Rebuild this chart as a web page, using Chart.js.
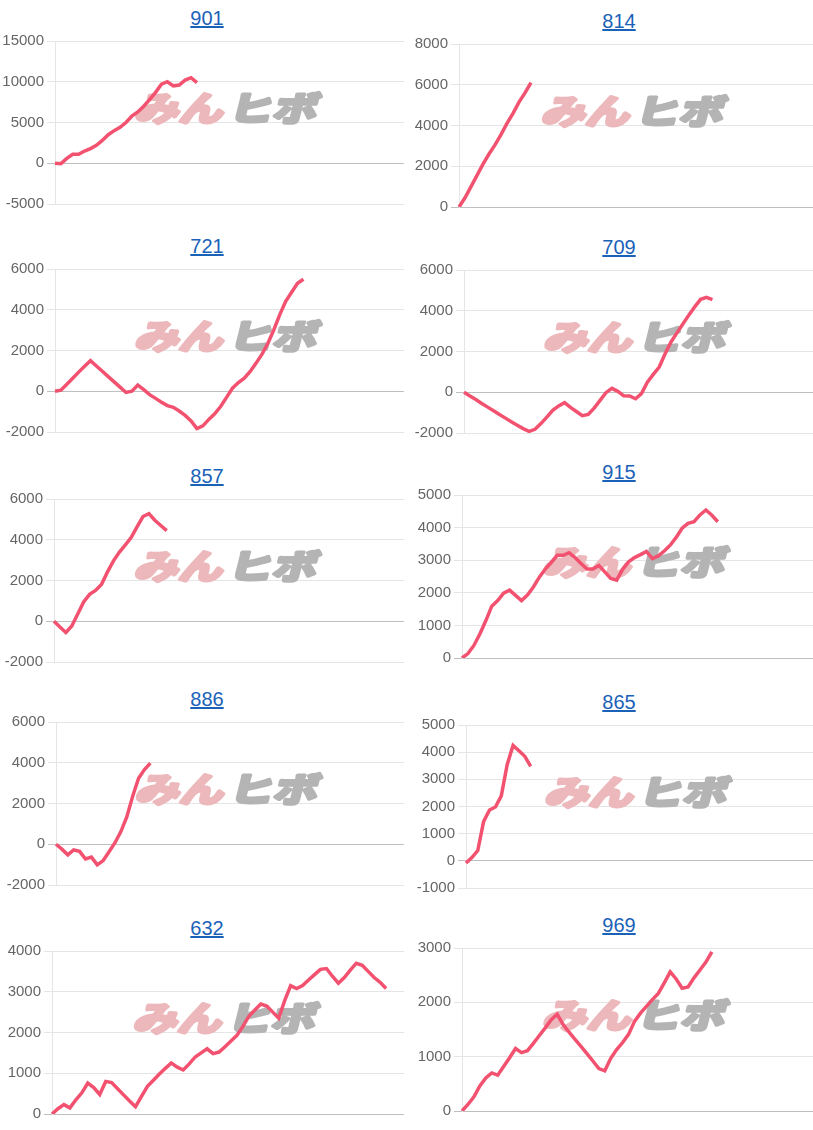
<!DOCTYPE html>
<html>
<head>
<meta charset="utf-8">
<script src="https://cdn.jsdelivr.net/npm/chart.js@4.4.0/dist/chart.umd.min.js"></script>
<style>
  body { margin: 0; background: #fff; font-family: "Liberation Sans", Arial, sans-serif; }
  #page { position: relative; width: 813px; height: 1130px; overflow: hidden; }
  .title { position: absolute; width: 200px; margin-left: -100px; height: 36px; line-height: 36px; text-align: center; font-size: 20px; }
  .title a { color: #1a62b8; text-decoration: underline; }
  .box { position: absolute; height: 187px; }
</style>
</head>
<body>
<div id="page"></div>
<script>
// x positions (days) - the axis is longer than most series
const xLabels = Array.from({ length: 60 }, (_, i) => i + 1);

const titles = ['901', '814', '721', '709', '857', '915', '886', '865', '632', '969'];

const v901 = [0, -50, 600, 1100, 1100, 1500, 1800, 2200, 2800, 3500, 4000, 4400, 5000, 5800, 6300,
  7000, 7800, 8700, 9700, 10000, 9500, 9600, 10200, 10500, 9900];
const v814 = [0, 450, 1000, 1550, 2100, 2600, 3050, 3550, 4100, 4600, 5150, 5600, 6100];
const v721 = [0, 50, 340, 640, 940, 1230, 1500, 1240, 980, 720, 460, 200, -60, 0, 300, 80, -165,
  -350, -535, -705, -790, -970, -1185, -1460, -1830, -1700, -1380, -1110, -750, -300, 150, 425,
  645, 970, 1380, 1820, 2355, 3020, 3760, 4410, 4860, 5300, 5500];
const v709 = [0, -180, -360, -550, -730, -910, -1090, -1270, -1450, -1620, -1785, -1920, -1820,
  -1540, -1220, -890, -670, -510, -745, -945, -1150, -1090, -780, -400, -20, 190, 45, -175, -180,
  -320, -70, 490, 875, 1240, 1890, 2470, 2915, 3350, 3785, 4190, 4560, 4660, 4550];
const v857 = [0, -280, -550, -230, 360, 950, 1320, 1510, 1800, 2410, 2950, 3380, 3740, 4110, 4630,
  5140, 5280, 4960, 4700, 4450];
const v915 = [0, 135, 385, 735, 1140, 1590, 1760, 1990, 2080, 1920, 1760, 1930, 2180, 2480, 2730,
  2930, 3150, 3150, 3230, 3080, 2900, 2730, 2730, 2840, 2640, 2440, 2390, 2720, 2950, 3080, 3170,
  3270, 3050, 3130, 3280, 3460, 3700, 3980, 4130, 4180, 4390, 4540, 4380, 4180];
const v886 = [0, -240, -520, -280, -350, -720, -630, -1010, -800, -370, 75, 620, 1340, 2360, 3240,
  3670, 3980];
const v865 = [-80, 120, 380, 1450, 1870, 1980, 2390, 3540, 4250, 4050, 3850, 3480];
const v632 = [0, 130, 230, 150, 350, 520, 760, 650, 480, 800, 770, 620, 470, 320, 180, 430, 680,
  830, 980, 1120, 1250, 1150, 1080, 1230, 1400, 1500, 1600, 1480, 1520, 1650, 1790, 1930, 2150,
  2400, 2550, 2700, 2650, 2500, 2350, 2780, 3150, 3080, 3150, 3290, 3420, 3550, 3570, 3380, 3210,
  3350, 3530, 3700, 3650, 3500, 3350, 3230, 3080];
const v969 = [0, 120, 260, 460, 610, 700, 660, 820, 980, 1150, 1075, 1110, 1245, 1390, 1530, 1680,
  1780, 1590, 1450, 1320, 1190, 1055, 920, 780, 740, 970, 1130, 1260, 1410, 1650, 1800, 1925, 2050,
  2165, 2360, 2560, 2430, 2260, 2285, 2450, 2595, 2740, 2930];

const ticks901 = [-5000, 0, 5000, 10000, 15000];
const ticks814 = [0, 2000, 4000, 6000, 8000];
const ticks721 = [-2000, 0, 2000, 4000, 6000];
const ticks709 = [-2000, 0, 2000, 4000, 6000];
const ticks857 = [-2000, 0, 2000, 4000, 6000];
const ticks915 = [0, 1000, 2000, 3000, 4000, 5000];
const ticks886 = [-2000, 0, 2000, 4000, 6000];
const ticks865 = [-1000, 0, 1000, 2000, 3000, 4000, 5000];
const ticks632 = [0, 1000, 2000, 3000, 4000];
const ticks969 = [0, 1000, 2000, 3000];

const series = [v901, v814, v721, v709, v857, v915, v886, v865, v632, v969];
const tickSets = [ticks901, ticks814, ticks721, ticks709, ticks857, ticks915, ticks886, ticks865, ticks632, ticks969];

// layout: top of each cell, and y axis width
const cellTop = [0, 2.7, 227.7, 228.7, 457.7, 453.7, 681, 683.7, 910.3, 907];
const axisW = [55, 53, 55, 58, 54, 56, 56, 60, 52, 56];

const FONT = '"Liberation Sans", Arial, sans-serif';

const watermark = {
  id: 'watermark',
  beforeDatasetsDraw(chart) {
    const a = chart.chartArea, ctx = chart.ctx;
    const cx = (a.left + a.right) / 2, cy = (a.top + a.bottom) / 2 - 14;
    ctx.save();
    ctx.translate(cx, cy);
    ctx.transform(1, 0, -0.25, 1, 0, 0);
    ctx.scale(1.3, 1);
    ctx.font = 'bold 34px "Noto Sans CJK JP"';
    ctx.textBaseline = 'middle';
    ctx.lineJoin = 'round';
    ctx.lineWidth = 3.5;
    ctx.fillStyle = ctx.strokeStyle = 'rgb(236,184,187)';
    ctx.strokeText('みん', -71, 0);
    ctx.fillText('みん', -71, 0);
    ctx.fillStyle = ctx.strokeStyle = 'rgb(180,180,180)';
    ctx.strokeText('ヒボ', 1, 0);
    ctx.fillText('ヒボ', 1, 0);
    ctx.restore();
  }
};

const page = document.getElementById('page');

series.forEach((vals, i) => {
  const right = i % 2 === 1;
  const left = right ? 406 : 0;
  const width = right ? 407 : 404;

  const t = document.createElement('div');
  t.className = 'title';
  t.style.left = (right ? 619 : 207) + 'px';
  t.style.top = cellTop[i] + 'px';
  t.innerHTML = '<a href="#">' + titles[i] + '</a>';
  page.appendChild(t);

  const box = document.createElement('div');
  box.className = 'box';
  box.style.left = left + 'px';
  box.style.width = width + 'px';
  box.style.top = (cellTop[i] + 29) + 'px';
  const cv = document.createElement('canvas');
  box.appendChild(cv);
  page.appendChild(box);

  const ticks = tickSets[i];
  new Chart(cv, {
    type: 'line',
    data: {
      labels: xLabels,
      datasets: [{
        data: vals,
        borderColor: 'rgb(242,82,112)',
        borderWidth: 3.5,
        pointRadius: 0,
        tension: 0,
        fill: false
      }]
    },
    options: {
      responsive: true,
      maintainAspectRatio: false,
      animation: false,
      plugins: { legend: { display: false }, tooltip: { enabled: false } },
      scales: {
        x: { display: false },
        y: {
          min: ticks[0],
          max: ticks[ticks.length - 1],
          afterFit: s => { s.width = axisW[i]; },
          ticks: {
            stepSize: ticks[1] - ticks[0],
            color: '#666',
            padding: 3,
            font: { size: 15, family: FONT },
            callback: v => String(v)
          },
          grid: {
            color: c => (c.tick && c.tick.value === 0) ? 'rgba(0,0,0,0.25)' : 'rgba(0,0,0,0.1)',
            tickLength: 8
          },
          border: { color: 'rgba(0,0,0,0.1)' }
        }
      }
    },
    plugins: [watermark]
  });
});
</script>
</body>
</html>
